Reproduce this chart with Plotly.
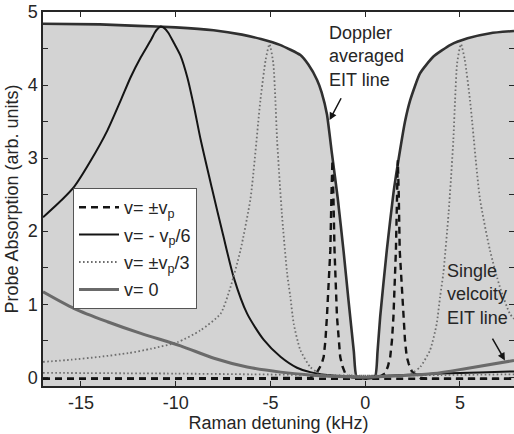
import plotly.graph_objects as go

# ---------------- data ----------------
# Doppler averaged EIT line (filled underneath)
x_dop = [-17, -14, -12, -10, -8, -6.5, -5.5, -4.5, -3.42, -3.0, -2.54, -2.3, -2.02, -1.75, -1.45, -1.14,
         -0.88, -0.6, -0.47, -0.2, 0.2, 0.53, 0.65, 0.79, 1.14, 1.49, 1.84, 2.1, 2.37, 2.89, 3.6, 4.5, 5.4, 6.6, 7.85]
y_dop = [4.84, 4.83, 4.81, 4.79, 4.75, 4.69, 4.63, 4.55, 4.41, 4.28, 4.07, 3.90, 3.60, 3.05, 2.45, 1.72,
         1.05, 0.35, 0.02, 0.0, 0.0, 0.02, 0.35, 0.83, 1.74, 2.52, 3.11, 3.50, 3.79, 4.16, 4.39, 4.55, 4.64, 4.71, 4.74]

# v = -vp/6 (solid black)
x_m6 = [-17, -16, -15.35, -14.47, -13.6, -12.9, -12.37, -11.84, -11.3, -11.1, -10.95, -10.79, -10.6,
        -10.4, -10.1, -9.74, -9.38, -9.03, -8.68, -8.1, -7.5, -6.93, -6.23, -5.35, -4.47, -3.6, -2.9, -2.0,
        -1.0, 0.0, 1.0, 2.0, 4.0, 6.0, 7.85]
y_m6 = [2.19, 2.43, 2.61, 2.97, 3.38, 3.79, 4.11, 4.38, 4.62, 4.72, 4.77, 4.80, 4.78,
        4.72, 4.58, 4.40, 4.10, 3.70, 3.25, 2.60, 1.95, 1.36, 0.87, 0.51, 0.28, 0.13, 0.07, 0.03,
        0.01, 0.0, 0.02, 0.03, 0.05, 0.065, 0.08]

# v = 0 (gray solid)
x_v0 = [-17, -15.35, -13.6, -11.84, -9.74, -7.98, -6.23, -4.47, -2.9, -1.5, 0.0, 1.84, 3.6, 5.35, 7.85]
y_v0 = [1.17, 0.94, 0.76, 0.60, 0.43, 0.26, 0.14, 0.07, 0.03, 0.01, 0.0, 0.02, 0.05, 0.12, 0.23]

# v = -vp/3 (dotted, peak near -5 kHz)
x_m3 = [-17, -15.5, -14, -12.5, -11.3, -9.9, -8.7, -7.63, -7.1, -6.58, -6.05, -5.53, -5.25, -5.05,
        -4.85, -4.74, -4.65, -4.4, -4.12, -3.95, -3.77, -3.42, -2.9, -2.54, -2.19, 0.0, 4.0, 7.85]
y_m3 = [0.21, 0.24, 0.28, 0.33, 0.39, 0.48, 0.64, 0.87, 1.24, 1.74, 2.45, 3.79, 4.35, 4.56,
        4.30, 3.79, 3.25, 2.25, 1.42, 1.10, 0.73, 0.37, 0.14, 0.07, 0.03, 0.02, 0.03, 0.04]

# v = +vp/3 (dotted, peak near +5 kHz)
x_p3 = [-17, -10, -6, -2.19, 2.19, 2.54, 2.9, 3.42, 3.77, 3.95, 4.12, 4.4, 4.65, 4.74, 4.85,
        5.05, 5.25, 5.53, 6.05, 6.58, 7.1, 7.63, 7.85]
y_p3 = [0.06, 0.05, 0.04, 0.03, 0.03, 0.07, 0.14, 0.37, 0.73, 1.10, 1.42, 2.25, 3.25, 3.79, 4.30,
        4.56, 4.35, 3.79, 2.45, 1.74, 1.24, 0.87, 0.80]

# v = -vp (dashed, peak near -1.75 kHz)
x_mp = [-17, -8, -3.5, -2.9, -2.54, -2.3, -2.19, -2.1, -2.02, -1.93, -1.84, -1.78, -1.73,
        -1.68, -1.62, -1.49, -1.41, -1.32, -1.2, -1.05, -0.7, 0.0, 4.0, 7.85]
y_mp = [-0.02, -0.02, -0.02, -0.01, 0.07, 0.18, 0.28, 0.5, 0.83, 1.25, 1.74, 2.5, 2.97,
        2.5, 1.74, 0.83, 0.5, 0.28, 0.15, 0.05, 0.0, -0.02, -0.02, -0.02]

# v = +vp (dashed, peak near +1.72 kHz)
x_pp = [-17, -4.0, 0.0, 0.7, 1.05, 1.2, 1.32, 1.41, 1.49, 1.62, 1.67, 1.72, 1.77, 1.82,
        1.93, 2.02, 2.1, 2.19, 2.3, 2.46, 2.9, 3.5, 8.0]
y_pp = [-0.02, -0.02, -0.02, 0.0, 0.05, 0.15, 0.28, 0.5, 0.83, 1.74, 2.5, 2.97, 2.5, 1.74,
        1.25, 0.83, 0.5, 0.28, 0.18, 0.08, -0.01, -0.02, -0.02]

x_range = [-17, 7.85]
y_range = [-0.12, 5]
x_tick_vals = [-15, -10, -5, 0, 5]
x_tick_text = ["-15", "-10", "-5", "0", "5"]
y_tick_vals = [0, 1, 2, 3, 4, 5]
y_tick_text = ["0", "1", "2", "3", "4", "5"]

legend_labels = ["v= \u00b1v<sub>p</sub>", "v= - v<sub>p</sub>/6", "v= \u00b1v<sub>p</sub>/3", "v= 0"]

FONT = "Liberation Sans, Arial, Helvetica, sans-serif"
TXT = "#262626"

fig = go.Figure()

# filled area under the Doppler averaged line (down to the bottom of the axis)
fig.add_trace(go.Scatter(x=x_range, y=[y_range[0], y_range[0]], mode="lines",
                         line=dict(width=0, color="rgba(0,0,0,0)"), showlegend=False, hoverinfo="skip"))
fig.add_trace(go.Scatter(x=x_dop, y=y_dop, mode="lines", fill="tonexty", fillcolor="#d3d3d3",
                         line=dict(color="#303030", width=2.6, shape="spline", smoothing=0.5),
                         showlegend=False))

DOT = dict(color="#6e6e6e", width=1.8, dash="1.6px,2.4px", shape="spline", smoothing=0.6)

# v = ±vp dashed
fig.add_trace(go.Scatter(x=x_mp, y=y_mp, mode="lines", name=legend_labels[0], legendgroup="a",
                         line=dict(color="#141414", width=2.4, dash="7px,5px")))
fig.add_trace(go.Scatter(x=x_pp, y=y_pp, mode="lines", name=legend_labels[0], legendgroup="a",
                         showlegend=False, line=dict(color="#141414", width=2.4, dash="7px,5px")))
# v = -vp/6
fig.add_trace(go.Scatter(x=x_m6, y=y_m6, mode="lines", name=legend_labels[1], legendgroup="b",
                         line=dict(color="#141414", width=2.0, shape="spline", smoothing=0.7)))
# v = ±vp/3 dotted
fig.add_trace(go.Scatter(x=x_m3, y=y_m3, mode="lines", name=legend_labels[2], legendgroup="c", line=DOT))
fig.add_trace(go.Scatter(x=x_p3, y=y_p3, mode="lines", name=legend_labels[2], legendgroup="c",
                         showlegend=False, line=DOT))
# v = 0
fig.add_trace(go.Scatter(x=x_v0, y=y_v0, mode="lines", name=legend_labels[3], legendgroup="d",
                         line=dict(color="#6a6a6a", width=3.0, shape="spline", smoothing=0.8)))

axis_common = dict(showline=True, linecolor="#262626", linewidth=1.5, mirror="ticks",
                   ticks="inside", ticklen=5, tickcolor="#262626", tickwidth=1.2,
                   showgrid=False, zeroline=False,
                   tickfont=dict(family=FONT, size=18, color=TXT))

fig.update_xaxes(range=x_range, tickvals=x_tick_vals, ticktext=x_tick_text,
                 title=dict(text="Raman detuning (kHz)", font=dict(family=FONT, size=18, color=TXT), standoff=2),
                 **axis_common)
fig.update_yaxes(range=y_range, tickvals=y_tick_vals, ticktext=y_tick_text,
                 minor=dict(dtick=0.5, tick0=0, ticks="inside", ticklen=5, tickcolor="#262626", showgrid=False),
                 title=dict(text="Probe Absorption (arb. units)", font=dict(family=FONT, size=18, color=TXT), standoff=4),
                 **axis_common)

fig.add_annotation(x=-2.0, y=4.88, xref="x", yref="y", text="Doppler<br>averaged<br>EIT line",
                   showarrow=False, xanchor="left", yanchor="top", align="left",
                   font=dict(family=FONT, size=18, color=TXT))
fig.add_annotation(x=-1.88, y=3.52, ax=-1.23, ay=3.84, xref="x", yref="y", axref="x", ayref="y",
                   text="", showarrow=True, arrowhead=2, arrowsize=1, arrowwidth=1.5, arrowcolor="#141414")
fig.add_annotation(x=4.21, y=1.62, xref="x", yref="y", text="Single<br>velcoity<br>EIT line",
                   showarrow=False, xanchor="left", yanchor="top", align="left",
                   font=dict(family=FONT, size=18, color=TXT))
fig.add_annotation(x=7.37, y=0.23, ax=6.67, ay=0.55, xref="x", yref="y", axref="x", ayref="y",
                   text="", showarrow=True, arrowhead=2, arrowsize=1, arrowwidth=1.5, arrowcolor="#141414")

fig.update_layout(
    width=514, height=434,
    margin=dict(l=43, r=0, t=12, b=48, autoexpand=False),
    paper_bgcolor="white", plot_bgcolor="white",
    font=dict(family=FONT, size=18, color=TXT),
    legend=dict(x=0.0637, y=0.5294, xanchor="left", yanchor="top", bgcolor="white",
                bordercolor="#555555", borderwidth=1, tracegroupgap=1, itemwidth=40,
                font=dict(family=FONT, size=18, color=TXT)),
    showlegend=True,
)

fig.write_html("out.html")
